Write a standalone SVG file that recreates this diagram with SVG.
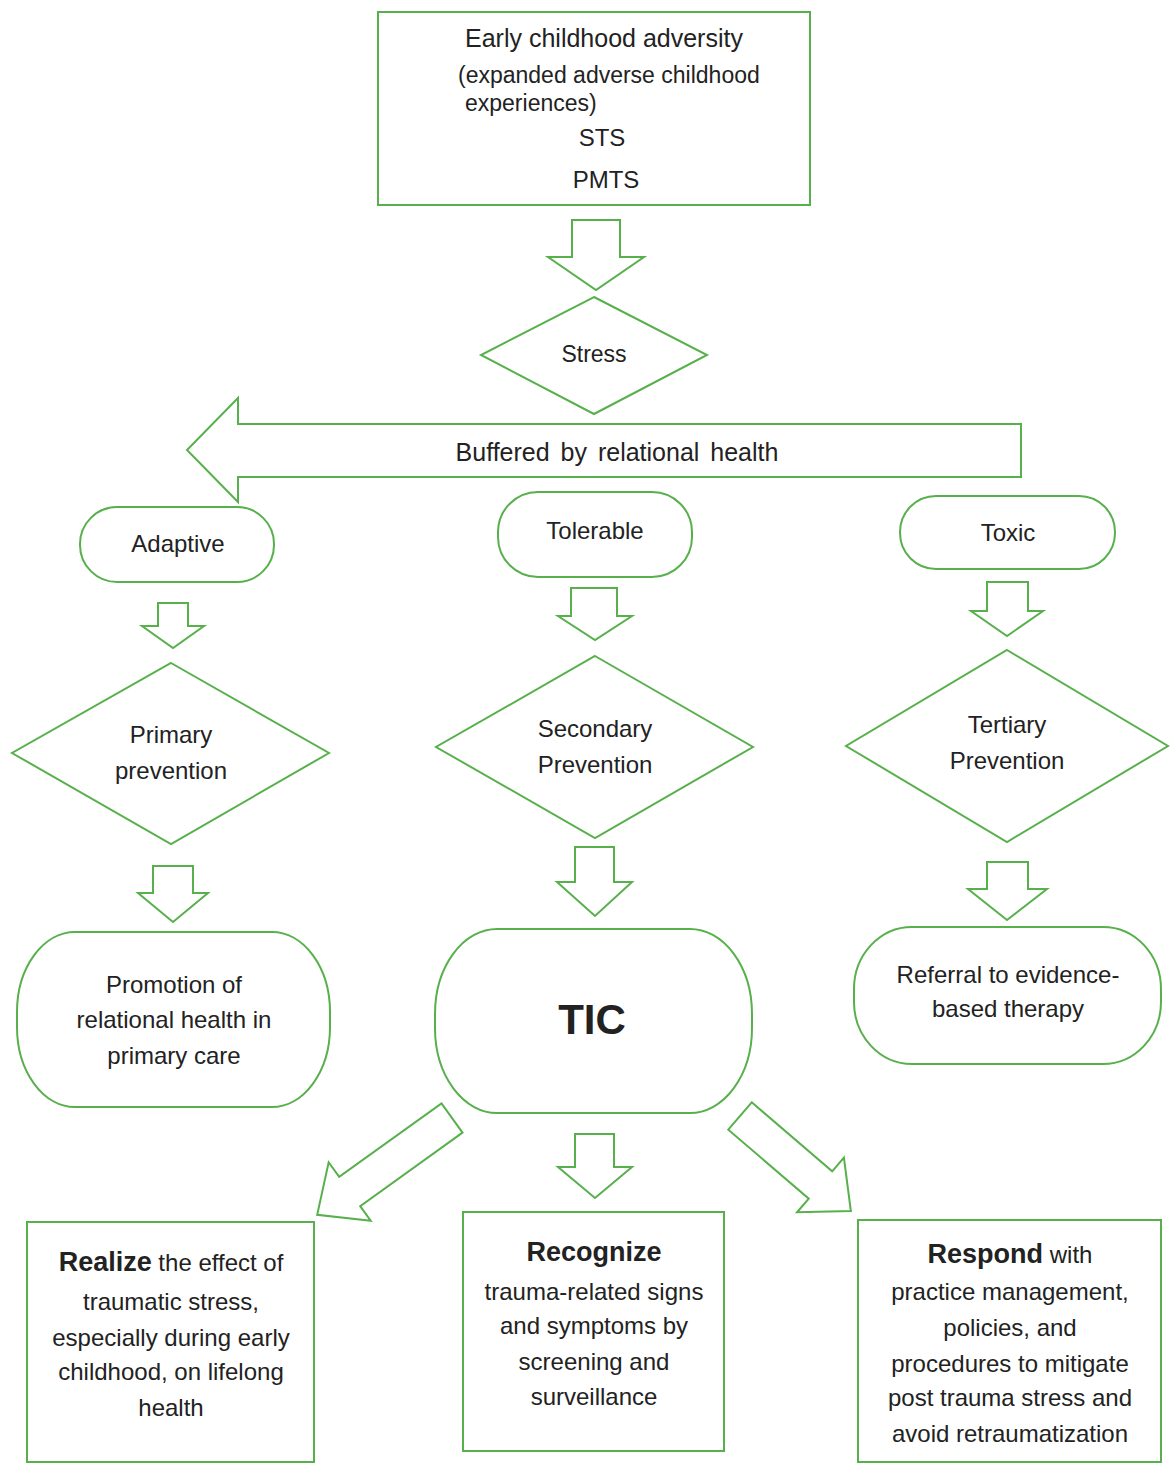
<svg xmlns="http://www.w3.org/2000/svg" width="1172" height="1463" viewBox="0 0 1172 1463">
<style>
.s{fill:#fff;stroke:#58b04c;stroke-width:2}
.a{fill:#fff;stroke:#58b04c;stroke-width:2;stroke-linejoin:miter}
text{font-family:"Liberation Sans",Arial,sans-serif;fill:#222;font-size:24px}
.c{text-anchor:middle}
.b{font-weight:bold}
</style>
<rect width="1172" height="1463" fill="#fff"/>
<g id="connectors">
<polygon class="a" points="572,220 620,220 620,257 644,257 596,290 548,257 572,257"/>
<polygon class="a" points="158,603 188,603 188,626 204,626 173,648 142,626 158,626"/>
<polygon class="a" points="571,588 617,588 617,616 632,616 595,640 558,616 571,616"/>
<polygon class="a" points="987,582 1028,582 1028,611 1043,611 1007,636 971,611 987,611"/>
<polygon class="a" points="153,866 193,866 193,893 208,893 173,922 138,893 153,893"/>
<polygon class="a" points="575,847 614,847 614,882 632,882 595,916 557,882 575,882"/>
<polygon class="a" points="987,862 1028,862 1028,889 1047,889 1007,920 968,889 987,889"/>
<polygon class="a" points="575,1134 614,1134 614,1167 632,1167 595,1198 558,1167 575,1167"/>
<polygon class="a" transform="translate(452,1118) rotate(144.3)" points="0,-18 126,-18 126,-36 166,0 126,36 126,18 0,18"/>
<polygon class="a" transform="translate(740,1116) rotate(40.6)" points="0,-18 106,-18 106,-36 146,0 106,36 106,18 0,18"/>
</g>
<g id="buffered">
<polygon class="a" points="1021,424 1021,477 238,477 238,502 187,450 238,398 238,424"/>
<text class="c" x="617" y="461" style="font-size:25px;word-spacing:4px">Buffered by relational health</text>
</g>
<g id="adversity">
<rect class="s" x="378" y="12" width="432" height="193"/>
<text class="c" x="604" y="47" style="font-size:25px">Early childhood adversity</text>
<text x="458" y="83" style="font-size:23px">(expanded adverse childhood</text>
<text x="465" y="111" style="font-size:23px">experiences)</text>
<text class="c" x="602" y="146" style="font-size:24px">STS</text>
<text class="c" x="606" y="188" style="font-size:24px">PMTS</text>
</g>
<g id="stress">
<polygon class="s" points="594,297 707,355 594,414 481,355"/>
<text class="c" x="594" y="362" style="font-size:23px">Stress</text>
</g>
<g id="adaptive">
<rect class="s" x="80" y="507" width="194" height="75" rx="37" ry="37"/>
<text class="c" x="178" y="552">Adaptive</text>
</g>
<g id="tolerable">
<rect class="s" x="498" y="492" width="194" height="85" rx="40" ry="40"/>
<text class="c" x="595" y="539">Tolerable</text>
</g>
<g id="toxic">
<rect class="s" x="900" y="496" width="215" height="73" rx="36" ry="36"/>
<text class="c" x="1008" y="541">Toxic</text>
</g>
<g id="primary">
<polygon class="s" points="171,663 329,753 171,844 12,753"/>
<text class="c" x="171" y="743">Primary</text>
<text class="c" x="171" y="779">prevention</text>
</g>
<g id="secondary">
<polygon class="s" points="595,656 753,747 595,838 436,747"/>
<text class="c" x="595" y="737">Secondary</text>
<text class="c" x="595" y="773">Prevention</text>
</g>
<g id="tertiary">
<polygon class="s" points="1007,650 1168,746 1007,842 846,746"/>
<text class="c" x="1007" y="733">Tertiary</text>
<text class="c" x="1007" y="769">Prevention</text>
</g>
<g id="promotion">
<rect class="s" x="17" y="932" width="313" height="175" rx="58" ry="80"/>
<text class="c" x="174" y="993">Promotion of</text>
<text class="c" x="174" y="1028">relational health in</text>
<text class="c" x="174" y="1064">primary care</text>
</g>
<g id="tic">
<rect class="s" x="435" y="929" width="317" height="184" rx="62" ry="85"/>
<text class="c b" x="592" y="1034" style="font-size:42px">TIC</text>
</g>
<g id="referral">
<rect class="s" x="854" y="927" width="307" height="137" rx="58" ry="62"/>
<text class="c" x="1008" y="983">Referral to evidence-</text>
<text class="c" x="1008" y="1017">based therapy</text>
</g>
<g id="realize">
<rect class="s" x="27" y="1222" width="287" height="240"/>
<text class="c" x="171" y="1271"><tspan class="b" style="font-size:27px">Realize</tspan> the effect of</text>
<text class="c" x="171" y="1310">traumatic stress,</text>
<text class="c" x="171" y="1346">especially during early</text>
<text class="c" x="171" y="1380">childhood, on lifelong</text>
<text class="c" x="171" y="1416">health</text>
</g>
<g id="recognize">
<rect class="s" x="463" y="1212" width="261" height="239"/>
<text class="c b" x="594" y="1261" style="font-size:27px">Recognize</text>
<text class="c" x="594" y="1300">trauma-related signs</text>
<text class="c" x="594" y="1334">and symptoms by</text>
<text class="c" x="594" y="1370">screening and</text>
<text class="c" x="594" y="1405">surveillance</text>
</g>
<g id="respond">
<rect class="s" x="858" y="1220" width="303" height="242"/>
<text class="c" x="1010" y="1263"><tspan class="b" style="font-size:27px">Respond</tspan> with</text>
<text class="c" x="1010" y="1300">practice management,</text>
<text class="c" x="1010" y="1336">policies, and</text>
<text class="c" x="1010" y="1372">procedures to mitigate</text>
<text class="c" x="1010" y="1406">post trauma stress and</text>
<text class="c" x="1010" y="1442">avoid retraumatization</text>
</g>
</svg>
